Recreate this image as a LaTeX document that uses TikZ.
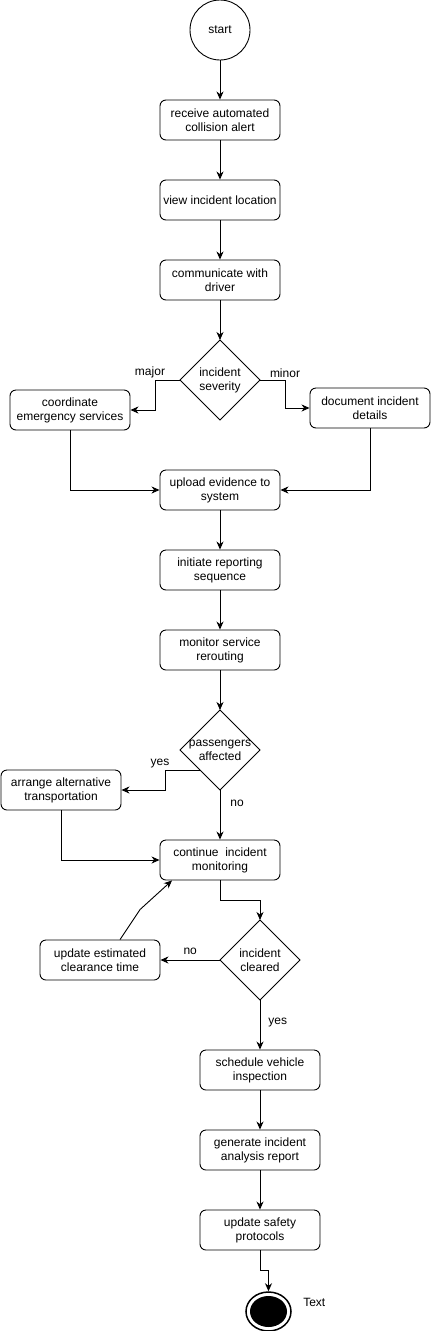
\documentclass[tikz,border=0pt]{standalone}
\usepackage{fontspec}
\setmainfont{Liberation Sans}
\usetikzlibrary{arrows.meta,shapes.geometric}

\tikzset{
	box/.style={draw, rounded corners=6pt, minimum width=120pt, minimum height=40pt, align=center, inner sep=2pt, line width=0.9pt},
	dec/.style={diamond, draw, minimum width=80pt, minimum height=80pt, inner sep=0pt, outer sep=0pt, line width=0.9pt, label={[align=center]center:#1}},
	arr/.style={line width=0.9pt, -{Stealth[length=8pt,width=7pt,inset=2.5pt]}},
	lbl/.style={inner sep=2pt}
}

\begin{document}
\begin{tikzpicture}[x=1pt,y=-1pt,font=\fontsize{12}{14}\selectfont]
	\useasboundingbox (0,0) rectangle (431,1331);

	\node[circle, draw, line width=0.9pt, minimum size=60pt, inner sep=0pt] (start) at (220,30) {start};
	\node[box] (alert) at (220,120) {receive automated\\collision alert};
	\node[box] (loc) at (220,200) {view incident location};
	\node[box] (drv) at (220,280) {communicate with\\driver};
	\node[dec={incident\\severity}] (sev) at (220,380) {};
	\node[box] (emg) at (70,410) {coordinate\\emergency services};
	\node[box] (doc) at (370,408) {document incident\\details};
	\node[box] (upl) at (220,490) {upload evidence to\\system};
	\node[box] (rep) at (220,570) {initiate reporting\\sequence};
	\node[box] (mon) at (220,650) {monitor service\\rerouting};
	\node[dec={passengers\\affected}] (pas) at (220,750) {};
	\node[box] (alt) at (61,790) {arrange alternative\\transportation};
	\node[box] (cont) at (220,860) {continue\ \ incident\\monitoring};
	\node[dec={incident\\cleared}] (clr) at (260,960) {};
	\node[box] (eta) at (100,960) {update estimated\\clearance time};
	\node[box] (insp) at (260,1070) {schedule vehicle\\inspection};
	\node[box] (ana) at (260,1150) {generate incident\\analysis report};
	\node[box] (safe) at (260,1230) {update safety\\protocols};
	\node[ellipse, draw, line width=1.5pt, minimum width=45pt, minimum height=39pt, inner sep=0pt,
		path picture={\fill (path picture bounding box.center) ellipse (18.5pt and 15.5pt);},
		label={[label distance=8pt, yshift=9pt]right:Text}] (stop) at (268.5,1311.5) {};

	% main line
	\draw[arr] (start) -- (alert);
	\draw[arr] (alert) -- (loc);
	\draw[arr] (loc) -- (drv);
	\draw[arr] (drv) -- (sev);

	% severity
	\draw[arr] (sev.west) -- ++(-25,0) node[lbl, above, pos=1, xshift=-5pt]{major} |- (emg.east);
	\draw[arr] (sev.east) -- ++(25,0) node[lbl, above, pos=1]{minor} |- (doc.west);
	\draw[arr] (emg.south) |- (upl.west);
	\draw[arr] (doc.south) |- (upl.east);

	\draw[arr] (upl) -- (rep);
	\draw[arr] (rep) -- (mon);
	\draw[arr] (mon) -- (pas);

	% passengers
	\draw[arr] (pas.south west) -- ++(-35,0) node[lbl, above, pos=1, xshift=-5pt]{yes} |- (alt.east);
	\draw[arr] (pas.south) -- node[lbl, right, pos=0.26, xshift=8pt]{no} (cont.north);
	\draw[arr] (alt.south) |- (cont.west);

	% cleared loop
	\draw[arr] (cont.south) -- ++(0,20) -| (clr.north);
	\draw[arr] (clr.west) -- node[lbl, above, yshift=3pt]{no} (eta.east);
	\draw[arr] ([xshift=20pt]eta.north) -- ++(20,-30) -- ([xshift=-48pt]cont.south);
	\draw[arr] (clr.south) -- node[lbl, right, pos=0.46, xshift=6pt]{yes} (insp.north);

	\draw[arr] (insp) -- (ana);
	\draw[arr] (ana) -- (safe);
	\draw[arr] (safe.south) -- ++(0,20) -| (stop.north);

\end{tikzpicture}
\end{document}
